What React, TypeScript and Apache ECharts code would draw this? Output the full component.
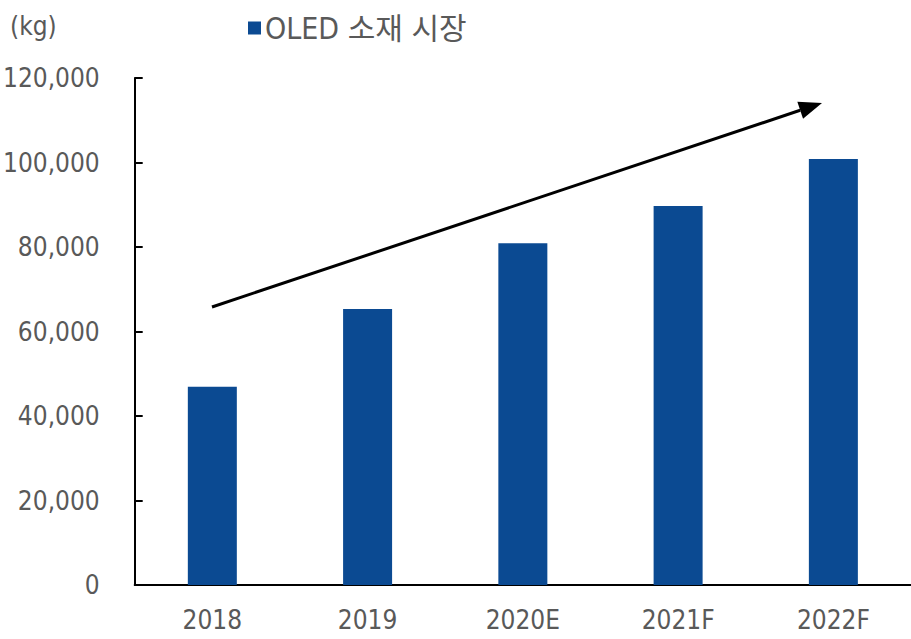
import React, { useEffect, useRef } from "react";
import * as echarts from "echarts";

const categories = ["2018", "2019", "2020E", "2021F", "2022F"];
const marketValues = [46900, 65300, 80900, 89700, 100800];
const seriesName = "OLED 소재 시장";
const unitLabel = "(kg)";
const yTicks = { min: 0, max: 120000, interval: 20000 };

const FONT = "'DejaVu Sans Condensed', 'Noto Sans CJK KR', sans-serif";
const TEXT = "#595959";
const BAR = "#0b4a92";

export default function App() {
  const ref = useRef<HTMLDivElement>(null);
  useEffect(() => {
    if (!ref.current) return;
    const chart = echarts.init(ref.current, null, { renderer: "svg" });
    const tip = [822, 103];
    const start = [212, 307];
    const dx = tip[0] - start[0];
    const dy = tip[1] - start[1];
    const len = Math.sqrt(dx * dx + dy * dy);
    const ux = dx / len, uy = dy / len;
    const hl = 23, hw = 9;
    const bx = tip[0] - hl * ux, by = tip[1] - hl * uy;
    const px = -uy, py = ux;
    chart.setOption({
      animation: false,
      grid: { left: 134, right: -8, top: 78, bottom: 54, containLabel: false },
      legend: {
        data: [seriesName],
        left: 243,
        top: 8,
        itemWidth: 13,
        itemHeight: 13,
        itemGap: 8,
        icon: "rect",
        textStyle: { color: TEXT, fontSize: 30, fontFamily: FONT, padding: [0, 0, 0, -1] },
      },
      xAxis: {
        type: "category",
        data: categories,
        axisLine: { lineStyle: { color: "#000", width: 2 } },
        axisTick: { inside: true, length: 8, lineStyle: { color: "#000", width: 2 }, alignWithLabel: false },
        axisLabel: { color: TEXT, fontSize: 26, fontFamily: FONT, margin: 22 },
      },
      yAxis: {
        type: "value",
        min: yTicks.min,
        max: yTicks.max,
        interval: yTicks.interval,
        splitLine: { show: false },
        axisLine: { show: true, lineStyle: { color: "#000", width: 2 } },
        axisTick: { show: true, inside: true, length: 8, lineStyle: { color: "#000", width: 2 } },
        axisLabel: {
          color: TEXT,
          fontSize: 26,
          fontFamily: FONT,
          margin: 35,
          formatter: (v: number) => v.toLocaleString("en-US"),
        },
      },
      series: [
        {
          name: seriesName,
          type: "bar",
          data: marketValues,
          barWidth: 49,
          itemStyle: { color: BAR },
        },
      ],
      graphic: [
        {
          type: "text",
          left: 10,
          top: 13,
          style: { text: unitLabel, fill: TEXT, font: `26px ${FONT}` },
        },
        {
          type: "line",
          shape: { x1: start[0], y1: start[1], x2: bx, y2: by },
          style: { stroke: "#000", lineWidth: 3 },
        },
        {
          type: "polygon",
          shape: {
            points: [
              [tip[0], tip[1]],
              [bx + px * hw, by + py * hw],
              [bx - px * hw, by - py * hw],
            ],
          },
          style: { fill: "#000" },
        },
      ],
    });
    return () => chart.dispose();
  }, []);
  return (
    <div
      ref={ref}
      style={{ position: "fixed", left: 0, top: 0, width: 911, height: 639, background: "#fff" }}
    />
  );
}
